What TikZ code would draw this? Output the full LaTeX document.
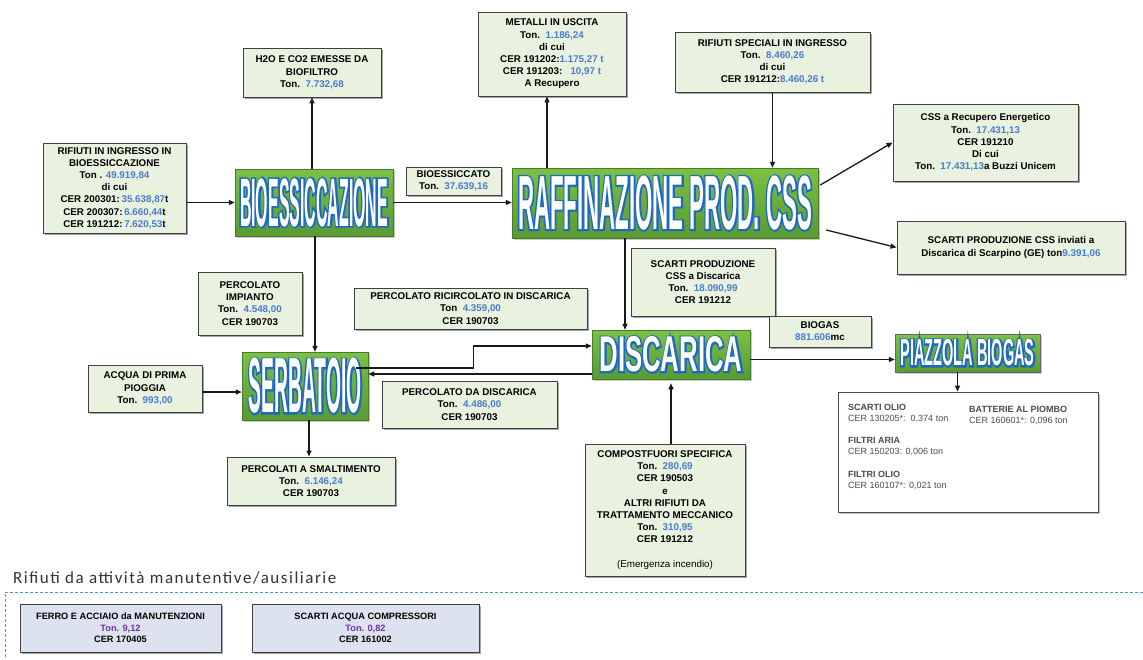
\documentclass[tikz,border=0pt]{standalone}
\usepackage{fontspec}
\setmainfont{Liberation Sans}
\newfontfamily\titlefont{Carlito}
\usetikzlibrary{calc,shadows,arrows.meta}
\definecolor{boxg}{HTML}{E9F2DF}
\definecolor{numb}{HTML}{4A7BD0}
\definecolor{purp}{HTML}{7030A0}
\definecolor{botb}{HTML}{DCE2EF}
\definecolor{gtop}{HTML}{7CC044}
\definecolor{gbot}{HTML}{579B33}
\definecolor{oblue}{HTML}{1F69C0}
\definecolor{dashc}{HTML}{4A9BC8}
\newcommand\nb[1]{\textcolor{numb}{#1}}
\newcommand\pb[1]{\textcolor{purp}{#1}}
\newcommand\outl[1]{\special{pdf:literal direct 2 Tr 3.2 w 0.12 0.41 0.75 RG}#1\special{pdf:literal direct 0 Tr}}
\newlength\bwd
\newcommand\bigword[4]{%
  \pgfmathsetmacro\fsz{#3/0.716}%
  \pgfinterruptpicture
  \settowidth\bwd{\fontspec{Liberation Sans}\bfseries\fontsize{\fsz}{\fsz}\selectfont #4}%
  \global\bwd=\bwd
  \endpgfinterruptpicture
  \pgfmathsetmacro\strch{#2/max(\bwd,1)}%
  \node[text=white, inner sep=0] (#1-t) at (#1) {\fontspec{Liberation Sans}[FakeStretch=\strch]\bfseries\fontsize{\fsz}{\fsz}\selectfont\rlap{\color{oblue}\outl{#4}}#4};
}
\tikzset{
  lbl/.style={draw=black!75, fill=boxg, line width=0.9pt, align=center, inner sep=1pt,
    font=\fontsize{9.8}{12.2}\selectfont\bfseries,
    drop shadow={shadow xshift=2pt, shadow yshift=-2pt, opacity=0.5, fill=black!70}},
  big/.style={draw=gbot!80!black, line width=0.5pt, top color=gtop, bottom color=gbot, inner sep=0,
    drop shadow={shadow xshift=1.5pt, shadow yshift=-1.5pt, opacity=0.35, fill=black!60}},
  listbox/.style={draw=black!70, fill=white, line width=0.9pt,
    drop shadow={shadow xshift=2pt, shadow yshift=-2pt, opacity=0.4, fill=black!60}},
  listt/.style={align=left, inner sep=0, text=black!70, font=\fontsize{9}{11.5}\selectfont},
  botbox/.style={draw=black!75, fill=botb, line width=0.9pt, align=center, inner sep=1pt,
    font=\fontsize{9.2}{11.5}\selectfont\bfseries,
    drop shadow={shadow xshift=2pt, shadow yshift=-2pt, opacity=0.5, fill=black!70}},
  arr/.style={-{Triangle[length=6pt,width=5pt]}, line width=1.3pt, draw=black!90},
}
\begin{document}
\begin{tikzpicture}[x=1pt,y=-1pt]
\useasboundingbox (0,0) rectangle (1143,659);

% labelled boxes
\node[lbl, minimum width=138, minimum height=49] (h2o) at (312,72.5)
  {H2O E CO2 EMESSE DA\\BIOFILTRO\\Ton.\ \ \nb{7.732,68}};
\node[lbl, minimum width=148, minimum height=84] (metalli) at (552,54)
  {METALLI IN USCITA\\Ton.\ \ \nb{1.186,24}\\di cui\\CER 191202:\nb{1.175,27 t}\\CER 191203:\ \ \ \nb{10,97 t}\\A Recupero};
\node[lbl, minimum width=195, minimum height=60] (rifspec) at (772.5,62)
  {RIFIUTI SPECIALI IN INGRESSO\\Ton.\ \ \nb{8.460,26}\\di cui\\CER 191212:\nb{8.460,26 t}};
\node[lbl, minimum width=185, minimum height=77] (cssrec) at (985.5,142.5)
  {CSS a Recupero Energetico\\Ton.\ \ \nb{17.431,13}\\CER 191210\\Di cui\\Ton.\ \ \nb{17.431,13}a Buzzi Unicem};
\node[lbl, minimum width=143, minimum height=90] (rifin) at (114.5,188)
  {RIFIUTI IN INGRESSO IN\\BIOESSICCAZIONE\\Ton . \nb{49.919,84}\\di cui\\CER 200301:\,\nb{35.638,87}t\\CER 200307:\,\nb{6.660,44}t\\CER 191212:\,\nb{7.620,53}t};
\node[lbl, minimum width=95, minimum height=28] (bioessato) at (453.5,181)
  {BIOESSICCATO\\Ton.\ \ \nb{37.639,16}};
\node[lbl, minimum width=228, minimum height=53] (scartiinv) at (1011,247.5)
  {SCARTI PRODUZIONE CSS inviati a\\Discarica di Scarpino (GE) ton\nb{9.391,06}};
\node[lbl, minimum width=104, minimum height=63] (percimp) at (250,303.5)
  {PERCOLATO\\IMPIANTO\\Ton.\ \ \nb{4.548,00}\\CER 190703};
\node[lbl, minimum width=144, minimum height=68] (scartidisc) at (703,282)
  {SCARTI PRODUZIONE\\CSS a Discarica\\Ton.\ \ \nb{18.090,99}\\CER 191212};
\node[lbl, minimum width=233, minimum height=41] (percric) at (470.5,308.5)
  {PERCOLATO RICIRCOLATO IN DISCARICA\\Ton\ \ \nb{4.359,00}\\CER 190703};
\node[lbl, minimum width=102, minimum height=31] (biogas) at (820,331.5)
  {BIOGAS\\\nb{881.606}mc};
\node[lbl, minimum width=114, minimum height=47] (acqua) at (145,388.5)
  {ACQUA DI PRIMA\\PIOGGIA\\Ton.\ \ \nb{993,00}};
\node[lbl, minimum width=175, minimum height=47] (percdisc) at (469.5,404.5)
  {PERCOLATO DA DISCARICA\\Ton.\ \ \nb{4.486,00}\\CER 190703};
\node[lbl, minimum width=168, minimum height=48] (percsmalt) at (311,481)
  {PERCOLATI A SMALTIMENTO\\Ton.\ \ \nb{6.146,24}\\CER 190703};
\node[lbl, minimum width=160, minimum height=132] (compost) at (665,510)
  {COMPOSTFUORI SPECIFICA\\Ton.\ \ \nb{280,69}\\CER 190503\\e\\ALTRI RIFIUTI DA\\TRATTAMENTO MECCANICO\\Ton.\ \ \nb{310,95}\\CER 191212\\[12.2pt]{\mdseries (Emergenza incendio)}};

% big green process nodes
\node[big, minimum width=158, minimum height=67] (bioess) at (314,202.5) {};
\bigword{bioess}{148}{49}{BIOESSICCAZIONE}
\node[big, minimum width=306, minimum height=70] (raff) at (665,203) {};
\bigword{raff}{294}{55}{RAFFINAZIONE PROD. CSS}
\node[big, minimum width=158, minimum height=49] (disc) at (671,354.5) {};
\bigword{disc}{143}{36}{DISCARICA}
\node[big, minimum width=126, minimum height=68] (serb) at (305,386) {};
\bigword{serb}{113}{56}{SERBATOIO}
\node[big, draw=black!60, minimum width=145, minimum height=38] (piazz) at (967.5,353) {};
\bigword{piazz}{134}{27}{PIAZZOLA BIOGAS}

% biogas list
\node[listbox, minimum width=260, minimum height=120] (list) at (968,452) {};
\node[listt, anchor=north west] (l1) at (848,404) {\textbf{SCARTI OLIO}\\CER 130205*:\ \ 0,374 ton};
\node[listt, anchor=north west] (l2) at (848,437) {\textbf{FILTRI ARIA}\\CER 150203: 0,006 ton};
\node[listt, anchor=north west] (l3) at (848,471) {\textbf{FILTRI OLIO}\\CER 160107*: 0,021 ton};
\node[listt, anchor=north west] (l4) at (969,406) {\textbf{BATTERIE AL PIOMBO}\\CER 160601*: 0,096 ton};

% connectors
\draw[arr] (h2o.south |- bioess.north) -- (h2o.south);
\draw[arr] (rifin.east |- bioess.west) -- (bioess.west);
\draw[arr] (bioess.east) -- (bioess.east -| raff.west);
\path ($(raff.north)+(-118,0)$) coordinate (rn);
\draw[arr] (rn) -- (rn |- metalli.south);
\draw[arr] (rifspec.south) -- (rifspec.south |- raff.north);
\draw[arr] ($(raff.east)+(2,-18)$) -- (cssrec.west);
\draw[arr] ($(raff.east)+(8,27)$) -- (scartiinv.west);
\path ($(raff.south)+(-40,0)$) coordinate (rs);
\draw[arr] (rs) -- (rs |- disc.north);
\path ($(bioess.south)+(1,0)$) coordinate (bs);
\draw[arr] (bs) -- (bs |- serb.north);
\draw[arr] (acqua.east |- 0,392) -- (serb.west |- 0,392);
\draw[arr] ($(serb.east)+(-12,-18)$) -- ++(117,0) |- ($(disc.west)+(0,-8.5)$);
\path ($(disc.west)+(0,19.5)$) coordinate (dl);
\draw[arr] (dl) -- (dl -| serb.east);
\path ($(disc.east)+(0,5)$) coordinate (de);
\draw[arr] (de) -- (de -| piazz.west);
\path ($(piazz.south)+(-10,0)$) coordinate (ps);
\draw[arr] (ps) -- (ps |- list.north);
\path (compost.north -| disc.south) coordinate (cn);
\draw[arr] (cn) -- ($(disc.south)+(0,4)$);
\path ($(serb.south)+(4,0)$) coordinate (ss);
\draw[arr] (ss) -- (ss |- percsmalt.north);

% maintenance section
\node[anchor=west, inner sep=0, text=black!80, font=\titlefont\fontsize{17}{19}\selectfont\addfontfeature{LetterSpace=9}] (title) at (13,578) {Rifiuti da attività manutentive/ausiliarie};
\coordinate (dr) at (1143,592);
\coordinate (dc) at (5,592);
\coordinate (db) at (5,659);
\draw[dashc, line width=1pt, dash pattern=on 3pt off 2pt] (dr) -- (dc) -- (db);
\node[botbox, minimum width=201, minimum height=48] (ferro) at (120.5,628)
  {FERRO E ACCIAIO da MANUTENZIONI\\\pb{Ton. 9,12}\\CER 170405};
\node[botbox, minimum width=227, minimum height=48] (acquacomp) at (365.5,628)
  {SCARTI ACQUA COMPRESSORI\\\pb{Ton. 0,82}\\CER 161002};
\end{tikzpicture}
\end{document}
